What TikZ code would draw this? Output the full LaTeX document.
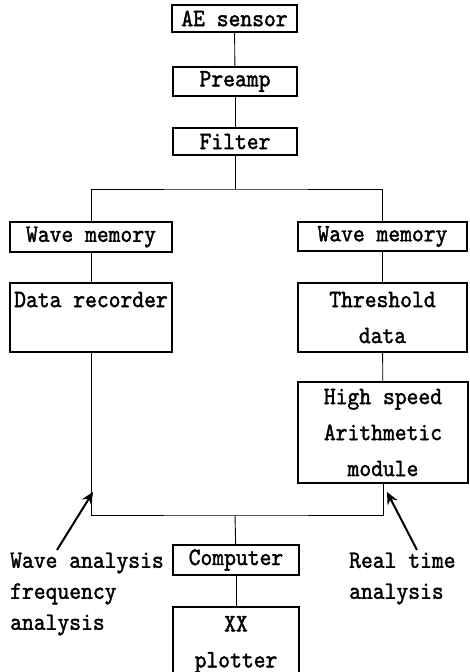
\documentclass[tikz,border=0pt]{standalone}
\usepackage{fontspec}
\newfontfamily\diagfont{lmmono10-regular.otf}[FakeBold=1.6,FakeStretch=0.9]
\usetikzlibrary{arrows.meta}
\tikzset{
  box/.style={draw,line width=1.1pt,inner sep=0pt,align=center,
    font=\diagfont\fontsize{25}{36}\selectfont},
  link/.style={line width=0.9pt},
  pointer/.style={line width=2pt,-{Stealth[length=12pt,width=11pt,inset=4pt]}},
  note/.style={inner sep=0pt,align=left,
    font=\diagfont\fontsize{25}{31}\selectfont}
}
\begin{document}
\begin{tikzpicture}[x=1pt,y=-1pt]
\clip (0,0) rectangle (469,672);
\node[box,minimum width=125pt,minimum height=27pt] (sensor) at (234.5,18.5) {AE sensor};
\node[box,minimum width=124pt,minimum height=29pt] (preamp) at (235,81.5) {Preamp};
\node[box,minimum width=124pt,minimum height=27pt] (filter) at (235,141.5) {Filter};
\node[box,minimum width=162pt,minimum height=30pt] (memL) at (91,237) {Wave memory};
\node[box,minimum width=169pt,minimum height=29pt] (memR) at (382.5,236.5) {Wave memory};
\node[box,minimum width=162pt,minimum height=69pt] (recorder) at (91,317.5) {Data recorder\\ \mbox{}};
\node[box,minimum width=169pt,minimum height=69pt] (threshold) at (382.5,317.5) {Threshold\\data};
\node[box,minimum width=170pt,minimum height=101pt] (arith) at (383,432.5) {High speed\\Arithmetic\\module};
\node[box,minimum width=126pt,minimum height=30pt] (computer) at (236,560) {Computer};
\node[box,minimum width=126pt,minimum height=75pt] (plotter) at (236,644.5) {XX\\plotter};
\node[note,anchor=west] (waveTxt) at (10,594) {Wave analysis\\frequency\\analysis};
\node[note,anchor=west] (realTxt) at (349,578.5) {Real time\\analysis};
\coordinate (split) at (235,189);
\coordinate (merge) at (235,515);
\coordinate (tailL) at (57,550);
\coordinate (tipL) at (93,492);
\coordinate (tailR) at (417,550);
\coordinate (tipR) at (387,492);
\draw[link] (sensor) -- (preamp);
\draw[link] (preamp) -- (filter);
\draw[link] (filter) -- (split);
\draw[link] (memL.north) |- (split) -| (memR.north);
\draw[link] (memL) -- (recorder);
\draw[link] (memR) -- (threshold);
\draw[link] (threshold) -- (arith);
\draw[link] (recorder.south) |- (merge) -| (arith.south);
\draw[link] (merge) -- (computer);
\draw[link] (computer) -- (plotter);
\draw[pointer] (tailL) -- (tipL);
\draw[pointer] (tailR) -- (tipR);
\end{tikzpicture}
\end{document}
